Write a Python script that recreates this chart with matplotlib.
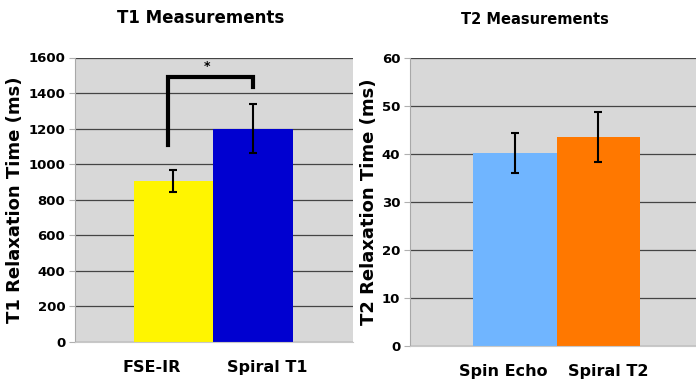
import numpy as np
import matplotlib.pyplot as plt
from matplotlib.transforms import ScaledTranslation

t1_labels = ['FSE-IR', 'Spiral T1']
t1_values = [903, 1200]
t1_errors = [62, 136]
t1_colors = ['#FFF500', '#0000D0']

t2_labels = ['Spin Echo', 'Spiral T2']
t2_values = [40.2, 43.5]
t2_errors = [4.2, 5.2]
t2_colors = ['#70B5FF', '#FF7800']

# significance bracket between the T1 bars
bracket_x = [-0.07, -0.07, 1.0, 1.0]
bracket_y = [1107, 1492, 1492, 1432]
star_x, star_y = 0.42, 1549

plt.rcParams['font.family'] = 'DejaVu Sans'
plt.rcParams['font.weight'] = 'bold'

fig = plt.figure(figsize=(6.96, 3.79), dpi=100)
ax1 = fig.add_axes([75 / 696, 37.3 / 379, 278 / 696, 284.2 / 379])
ax2 = fig.add_axes([410 / 696, 33.3 / 379, 286 / 696, 287.4 / 379])


def style(ax, ylim, step, xlim, labels, ylabel, shifts):
    ax.set_facecolor('#D8D8D8')
    ax.set_ylim(0, ylim)
    ax.set_yticks(np.arange(0, ylim + 1, step))
    ax.set_xlim(*xlim)
    ax.set_xticks(range(len(labels)))
    ax.set_xticklabels(labels, fontsize=11.5, fontweight='bold')
    ax.tick_params(axis='x', length=0, pad=13)
    ax.tick_params(axis='y', length=4, color='#B0B0B0', labelsize=9.5, pad=3)
    for lab in ax.get_yticklabels():
        lab.set_fontweight('bold')
    # labels in the original sit a little off the bar centres
    for lab, dx in zip(ax.get_xticklabels(), shifts):
        lab.set_transform(lab.get_transform() +
                          ScaledTranslation(dx / 100, 0, fig.dpi_scale_trans))
    ax.grid(axis='y', color='#444444', linewidth=0.9)
    ax.set_axisbelow(True)
    for s in ['top', 'right']:
        ax.spines[s].set_visible(False)
    ax.spines['left'].set_color('#A8A8A8')
    ax.spines['bottom'].set_color('#C8C8C8')
    ax.set_ylabel(ylabel, fontsize=13, fontweight='bold', labelpad=3)


x1 = np.arange(len(t1_labels))
ax1.bar(x1, t1_values, width=1.0, color=t1_colors, zorder=2)
ax1.errorbar(x1, t1_values, yerr=t1_errors, fmt='none', ecolor='black',
             elinewidth=1.5, capsize=3, capthick=1.5, zorder=3)
ax1.plot(bracket_x, bracket_y, color='black', linewidth=3, zorder=3,
         solid_joinstyle='miter')
ax1.text(star_x, star_y, '*', ha='center', va='center', fontsize=9)
style(ax1, 1600, 200, (-1.239, 2.258), t1_labels, 'T1 Relaxation Time (ms)',
      [-22, 14])

x2 = np.arange(len(t2_labels))
ax2.bar(x2, t2_values, width=1.0, color=t2_colors, zorder=2)
ax2.errorbar(x2, t2_values, yerr=t2_errors, fmt='none', ecolor='black',
             elinewidth=1.5, capsize=3, capthick=1.5, zorder=3)
style(ax2, 60, 10, (-1.254, 2.17), t2_labels, 'T2 Relaxation Time (ms)',
      [-11, 10])

fig.text(201 / 696, 1 - 18 / 379, 'T1 Measurements', ha='center', va='center',
         fontsize=12, fontweight='bold')
fig.text(535 / 696, 1 - 20 / 379, 'T2 Measurements', ha='center', va='center',
         fontsize=10.5, fontweight='bold')

fig.savefig('out.png', dpi=100)
